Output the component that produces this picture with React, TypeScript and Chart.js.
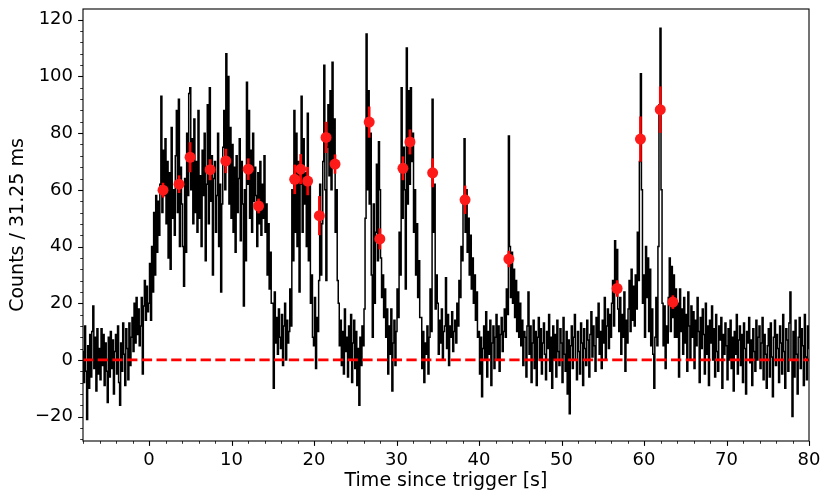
import { useEffect, useRef } from 'react';
import { Chart, registerables } from 'chart.js';

Chart.register(...registerables);

// Light curve: 0.125 s bins starting at -8 s
const binStart = -8;
const binWidth = 0.125;
const counts: number[] = [
  3, -8, 12, -4, -21, 5, -10, 9,
  -6, 10, 19, -3, 8, -11, 11, -5,
  4, -7, 11, -2, 9, -9, 6, -4,
  -15, 8, -6, 10, -3, 7, -12, 3,
  9, -5, 12, -8, -16, 6, -4, 13,
  2, -9, 11, 4, -7, 13, -2, 8,
  15, 3, 20, 6, 22, 9, 18, 5,
  12, 22, -5, 19, 28, 14, 26, 17,
  20, 34, 14, 40, 24, 52, 30, 58,
  38, 56, 44, 62, 93, 52, 74, 58,
  78, 48, 70, 36, 66, 32, 82, 50,
  60, 44, 72, 88, 52, 92, 40, 68,
  55, 40, 26, 64, 38, 80, 58, 94,
  96, 60, 78, 48, 85, 52, 70, 45,
  88, 50, 65, 40, 74, 58, 80, 35,
  62, 90, 48, 96, 56, 72, 30, 64,
  70, 45, 58, 80, 40, 62, 24, 55,
  75, 88, 60, 108, 70, 100, 55, 82,
  50, 76, 45, 68, 38, 72, 52, 64,
  78, 42, 70, 55, 19, 60, 35, 98,
  62, 88, 50, 74, 45, 80, 56, 68,
  58, 40, 66, 48, 70, 44, 62, 50,
  72, 45, 55, 30, 48, 25, 38, 20,
  20, -10, 24, 6, 15, 2, 18, 8,
  4, 16, -2, 12, 20, 0, 14, 6,
  10, 25, 12, 60, 35, 88, 45, 80,
  40, 70, 24, 62, 93, 45, 78, 55,
  66, 40, 87, 35, 62, 20, 30, 8,
  5, 22, -3, 15, 10, 28, 62, 30,
  48, 70, 104, 60, 28, 75, 90, 65,
  95, 60, 105, 70, 85, 45, 60, 28,
  20, 5, 14, -2, 10, -5, 18, 3,
  8, -6, 12, 0, 16, -8, 6, 14,
  -3, 10, -9, 4, -16, 8, -2, 12,
  5, 18, 50, 115, 60, 95, 55, 80,
  30, 8, 55, 20, 45, 69, 35, 77,
  60, 36, 22, 30, 15, 25, 8, 18,
  -5, 12, 2, 18, -11, 6, 14, -2,
  10, 25, 15, 45, 30, 96, 50, 75,
  60, 25, 110, 55, 95, 62, 96, 70,
  80, 45, 60, 30, 48, 22, 35, 15,
  15, -3, 10, -8, 6, 2, 12, -5,
  8, 25, 10, 92, 45, 62, 18, 30,
  20, 2, 14, 6, 18, 0, 10, 12,
  29, 4, 16, -2, 12, 8, 17, 3,
  10, 14, 6, 20, 12, 28, 22, 40,
  35, 55, 78, 45, 60, 38, 50, 30,
  44, 25, 36, 20, 30, 14, 24, 8,
  10, -5, 8, -13, 4, 12, 0, 17,
  -6, 10, 2, 14, -9, 6, 12, -3,
  8, 16, 0, 12, -4, 9, 15, 3,
  10, 18, 8, 25, 16, 79, 40, 22,
  38, 20, 32, 15, 28, 10, 24, 8,
  20, 5, 14, -2, 10, 8, -6, 12,
  24, 2, 12, -8, 6, 14, -3, 10,
  -9, 8, 15, 0, 11, -5, 6, 13,
  2, -7, 10, 4, 16, -4, 8, -10,
  12, 0, 9, -6, 14, 3, -2, 11,
  6, -8, 15, 2, -4, 10, -12, 7,
  -19, 5, 12, -3, 8, 16, 0, -7,
  10, 3, -5, 13, 6, -9, 11, 4,
  -2, 14, 7, -6, 9, 17, 1, 12,
  5, -4, 15, 8, 20, 2, 10, -3,
  14, 6, 22, 0, 12, 18, 4, 16,
  8, 20, 28, 12, 42, 26, 39, 18,
  10, 22, 2, 16, 8, 24, -4, 14,
  6, 18, 28, 10, 32, 14, 26, 12,
  30, 18, 45, 28, 70, 101, 60, 20,
  30, 8, 40, 22, 36, 10, 32, 5,
  18, 2, -10, 8, 22, 5, 40, 90,
  117, 60, 20, 5, 19, -3, 12, 6,
  22, 36, 10, 33, 15, 30, 8, 25,
  8, 20, -6, 25, 10, 18, 2, 22,
  6, 16, -4, 24, 12, 0, 19, 8,
  17, -3, 14, 5, 22, 10, -8, 15,
  4, 18, 9, -5, 20, 2, 12, -9,
  14, 6, 19, 0, 11, -6, 16, 3,
  -4, 12, 7, 15, -10, 9, 2, 13,
  5, -7, 11, 0, 14, -3, 8, -11,
  10, 2, 16, -5, 7, 12, -2, 9,
  -8, 13, 4, -12, 10, 6, 15, -1,
  7, -9, 11, 3, -4, 14, 0, 8,
  12, -3, 6, 15, -7, 9, 2, -10,
  5, 11, -6, 13, 1, -13, 8, 14,
  -2, 9, 4, -8, 12, 6, -5, 16,
  3, -10, 11, 7, -4, 13, 24, 0,
  -20, 10, -6, 14, 2, -12, 8, 15,
  -3, 11, 5, -9, 16, 1, -7, 12,
  4,
];

// Binned points with error bars
const ptTime = [1.7, 3.64, 4.98, 7.41, 9.31, 12.03, 13.28, 17.66, 18.38, 19.23, 20.65, 21.46, 22.55, 26.69, 27.98, 30.78, 31.63, 34.38, 38.31, 43.62, 56.74, 59.57, 61.97, 63.5];
const ptRate = [59.9, 62, 71.5, 67.1, 70.2, 67.3, 54.3, 63.7, 67.3, 63.1, 50.9, 78.5, 69.1, 83.9, 42.7, 67.6, 76.9, 66, 56.5, 35.6, 25.2, 77.9, 88.3, 20.4];
const ptErr = [2.6, 3.1, 5.3, 3.7, 4.3, 3.8, 2.6, 5.2, 5.3, 5.0, 6.9, 5.5, 3.4, 5.5, 3.7, 4.2, 4.4, 5.1, 5.0, 2.9, 2.9, 8.0, 8.2, 2.4];

// Axes
const xRange = [-8, 80];
const yRange = [-28.6, 123.8];
const xTickLabels = [0, 10, 20, 30, 40, 50, 60, 70, 80];
const yTickLabels = [-20, 0, 20, 40, 60, 80, 100, 120];
const xMinorStep = 2;
const yMinorStep = 4;
const baseline = [0, 0];

const FONT = "'DejaVu Sans', sans-serif";

export default function App() {
  const ref = useRef<HTMLCanvasElement>(null);

  useEffect(() => {
    document.body.style.margin = '0';
    const lc = counts.map((v, i) => ({ x: binStart + i * binWidth, y: v }));
    const pts = ptTime.map((t, i) => ({ x: t, y: ptRate[i] }));
    const zero = [{ x: xRange[0], y: baseline[0] }, { x: xRange[1], y: baseline[1] }];

    const plugin = {
      id: 'mplFrame',
      beforeDatasetDraw(chart: any, args: any) {
        if (args.index !== 2) return;
        const { ctx, chartArea: a } = chart;
        const xs = chart.scales.x;
        const ys = chart.scales.y;
        ctx.save();
        ctx.beginPath();
        ctx.rect(a.left, a.top, a.right - a.left, a.bottom - a.top);
        ctx.clip();
        ctx.strokeStyle = '#ff0000';
        ctx.lineWidth = 2.6;
        for (let i = 0; i < ptTime.length; i++) {
          const px = xs.getPixelForValue(ptTime[i]);
          ctx.beginPath();
          ctx.moveTo(px, ys.getPixelForValue(ptRate[i] - ptErr[i]));
          ctx.lineTo(px, ys.getPixelForValue(ptRate[i] + ptErr[i]));
          ctx.stroke();
        }
        ctx.restore();
      },
      afterDraw(chart: any) {
        const { ctx, chartArea: a } = chart;
        const xs = chart.scales.x;
        const ys = chart.scales.y;
        ctx.save();
        ctx.strokeStyle = '#000';
        ctx.lineWidth = 1.1;
        ctx.strokeRect(a.left, a.top, a.right - a.left, a.bottom - a.top);
        const x0 = Math.ceil(xRange[0] / xMinorStep) * xMinorStep;
        for (let v = x0; v <= xRange[1] + 1e-9; v += xMinorStep) {
          const major = xTickLabels.includes(v);
          const px = Math.round(xs.getPixelForValue(v)) + 0.5;
          ctx.lineWidth = major ? 1.1 : 0.8;
          ctx.beginPath();
          ctx.moveTo(px, a.bottom);
          ctx.lineTo(px, a.bottom + (major ? 4.9 : 2.8));
          ctx.stroke();
        }
        const y0 = Math.ceil(yRange[0] / yMinorStep) * yMinorStep;
        for (let v = y0; v <= yRange[1] + 1e-9; v += yMinorStep) {
          const major = yTickLabels.includes(v);
          const py = Math.round(ys.getPixelForValue(v)) + 0.5;
          ctx.lineWidth = major ? 1.1 : 0.8;
          ctx.beginPath();
          ctx.moveTo(a.left, py);
          ctx.lineTo(a.left - (major ? 4.9 : 2.8), py);
          ctx.stroke();
        }
        ctx.restore();
      },
    };

    const chart = new Chart(ref.current!, {
      type: 'scatter',
      data: {
        datasets: [
          {
            type: 'line',
            data: lc,
            borderColor: '#000',
            borderWidth: 1.5,
            pointRadius: 0,
            stepped: 'middle',
            fill: false,
            order: 3,
          } as any,
          {
            type: 'line',
            data: zero,
            borderColor: '#ff0000',
            borderWidth: 2.8,
            borderDash: [10.3, 4.4],
            pointRadius: 0,
            fill: false,
            order: 2,
          } as any,
          {
            type: 'scatter',
            data: pts,
            backgroundColor: '#ff1a1a',
            borderWidth: 0,
            pointRadius: 5.5,
            order: 1,
          } as any,
        ],
      },
      options: {
        animation: false,
        responsive: false,
        events: [],
        layout: { padding: { top: 9, right: 22, left: 0, bottom: 0 } },
        plugins: { legend: { display: false }, tooltip: { enabled: false } },
        scales: {
          x: {
            type: 'linear',
            min: xRange[0],
            max: xRange[1],
            afterBuildTicks: (s: any) => {
              s.ticks = xTickLabels.map((v) => ({ value: v }));
            },
            afterFit: (s: any) => {
              s.height = 62;
              s.paddingLeft = 0;
              s.paddingRight = 0;
            },
            ticks: {
              color: '#000',
              font: { family: FONT, size: 18 },
              padding: 9,
              maxRotation: 0,
              autoSkip: false,
              callback: (v: any) => String(v),
            },
            grid: { display: false, drawTicks: false },
            border: { display: false },
            title: {
              display: true,
              text: 'Time since trigger [s]',
              color: '#000',
              font: { family: FONT, size: 19 },
              padding: { top: 0, bottom: 10.6 },
            },
          },
          y: {
            type: 'linear',
            min: yRange[0],
            max: yRange[1],
            afterBuildTicks: (s: any) => {
              s.ticks = yTickLabels.map((v) => ({ value: v }));
            },
            afterFit: (s: any) => {
              s.width = 83;
              s.paddingTop = 0;
              s.paddingBottom = 0;
            },
            ticks: {
              color: '#000',
              font: { family: FONT, size: 18 },
              padding: 10,
              autoSkip: false,
              callback: (v: any) => (v < 0 ? '\u2212' + Math.abs(v) : String(v)),
            },
            grid: { display: false, drawTicks: false },
            border: { display: false },
            title: {
              display: true,
              text: 'Counts / 31.25 ms',
              color: '#000',
              font: { family: FONT, size: 19 },
              padding: { top: 6.6, bottom: 0 },
            },
          },
        },
      },
      plugins: [plugin],
    });
    return () => chart.destroy();
  }, []);

  return (
    <div style={{ width: 831, height: 503 }}>
      <canvas ref={ref} width={831} height={503} />
    </div>
  );
}
